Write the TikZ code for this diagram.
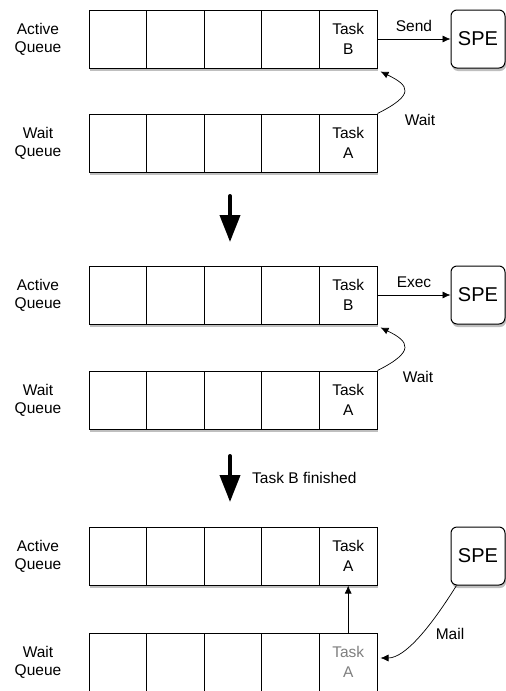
\documentclass[tikz,border=0pt]{standalone}
\usepackage{fontspec}
\setmainfont{Liberation Sans}
\usetikzlibrary{shadows,arrows.meta}
\tikzset{
  cell/.style={draw, line width=1pt, minimum width=57.6pt, minimum height=58pt,
    inner sep=0pt, align=center, font=\fontsize{15.5}{20.5}\selectfont},
  queue/.style={draw, line width=1pt, fill=white, minimum width=288pt, minimum height=58pt,
    inner sep=0pt, drop shadow={shadow xshift=1pt, shadow yshift=-3pt, opacity=0.5}},
  spe/.style={draw, line width=1pt, fill=white, rounded corners=6pt, minimum width=54pt,
    minimum height=58pt, inner sep=0pt, font=\fontsize{20}{24}\selectfont,
    drop shadow={shadow xshift=1pt, shadow yshift=-3pt, opacity=0.5}},
  lbl/.style={align=center, inner sep=0pt, font=\fontsize{15.5}{18}\selectfont},
  link/.style={line width=0.7pt, -{Latex[length=8pt,width=7pt]}},
  big/.style={line width=4pt, line cap=round, -{Triangle[width=20pt,length=27pt]}}
}
\begin{document}
\begin{tikzpicture}[x=1pt,y=-1pt]
  \useasboundingbox[fill=white] (0,0) rectangle (506,691);
  \foreach \r/\y/\t/\c in {aq1/39/B/black, wq1/143/A/black, aq2/295/B/black,
                           wq2/400/A/black, aq3/556/A/black, wq3/662/A/gray}{
    \node[queue] (\r) at (233,\y) {};
    \foreach \i in {1,...,4}
      \node[cell] (\r-\i) at (60.2+57.6*\i,\y) {};
    \node[cell, text=\c] (\r-5) at (348.2,\y) {Task\\\t};
  }
  \foreach \n/\y/\t in {la1/39/Active, lw1/143/Wait, la2/295/Active,
                        lw2/400/Wait, la3/556/Active, lw3/662/Wait}
    \node[lbl] (\n) at (38,\y) {\t\\Queue};

  \node[spe] (spe1) at (478,39) {SPE};
  \node[spe] (spe2) at (478,295) {SPE};
  \node[spe] (spe3) at (478,556) {SPE};

  \draw[link] (aq1-5.east) -- node[lbl, above=7pt] (send) {Send} (spe1.west);
  \draw[link] (wq1-5.north east) .. controls +(38,-19) and +(29,14) .. ([xshift=3pt,yshift=-3pt]aq1-5.south east);
  \node[lbl] (wait1) at (420,120) {Wait};

  \coordinate (d1s) at (230,196);
  \coordinate (d1e) at (230,242);
  \draw[big] (d1s) -- (d1e);

  \draw[link] (aq2-5.east) -- node[lbl, above=7pt] (exec) {Exec} (spe2.west);
  \draw[link] (wq2-5.north east) .. controls +(38,-19) and +(29,14) .. ([xshift=3pt,yshift=-3pt]aq2-5.south east);
  \node[lbl] (wait2) at (418,377) {Wait};

  \coordinate (d2s) at (230,456);
  \coordinate (d2e) at (230,502);
  \draw[big] (d2s) -- (d2e);
  \node[lbl, anchor=west] (fin) at (252,478) {Task B finished};

  \draw[link] (wq3-5.north) -- (aq3-5.south);
  \draw[link] ([xshift=6pt]spe3.south west) .. controls +(-25,40) and +(25,0) .. ([xshift=3pt,yshift=4pt]wq3-5.east);
  \node[lbl] (mail) at (450,634) {Mail};
\end{tikzpicture}
\end{document}
